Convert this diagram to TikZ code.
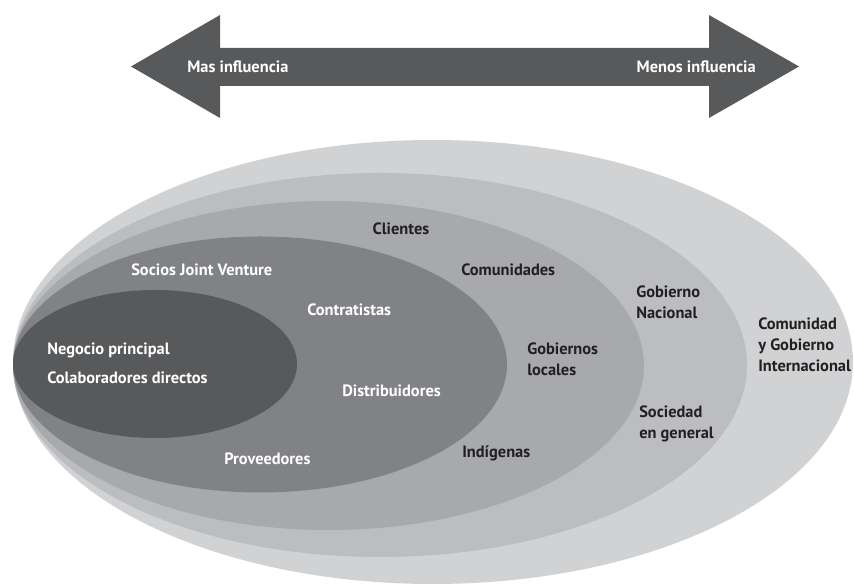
\documentclass[tikz,border=0pt]{standalone}
\usepackage{fontspec}
\setmainfont{PT Sans}
\usepackage{tikz}
\definecolor{gris1}{RGB}{209,210,212}
\definecolor{gris2}{RGB}{188,189,192}
\definecolor{gris3}{RGB}{167,169,172}
\definecolor{gris4}{RGB}{128,130,133}
\definecolor{gris5}{RGB}{88,89,91}
\definecolor{texto}{RGB}{35,31,32}

\begin{document}
\begin{tikzpicture}[x=0.75pt,y=0.75pt,
    lbl/.style={anchor=west,inner sep=0pt,align=left,text=texto,
      font=\fontsize{12.3}{15.9}\selectfont\bfseries},
    lblw/.style={lbl,text=white}]
    \useasboundingbox (0,0) rectangle (854,585);
    % flecha
    \fill[gris5] (131,518.5) -- (220,570) -- (220,537) -- (709,537) -- (709,570)
      -- (799,518.5) -- (709,467) -- (709,499) -- (220,499) -- (220,467) -- cycle;
    \node[lblw] (mas) at (187,518.5) {Mas influencia};
    \node[lblw,anchor=east] (menos) at (756,518.5) {Menos influencia};
    % elipses
    \fill[gris1] (433,223) ellipse [x radius=420,y radius=222];
    \fill[gris2] (380,220) ellipse [x radius=367,y radius=192];
    \fill[gris3] (328.5,219.5) ellipse [x radius=315.5,y radius=164.5];
    \fill[gris4] (260,220.5) ellipse [x radius=247,y radius=128];
    \fill[gris5] (155,221) ellipse [x radius=142,y radius=74];
    % textos
    \node[lblw] (negocio) at (47,235) {Negocio principal};
    \node[lblw] (colab) at (47,207) {Colaboradores directos};
    \node[lblw] (socios) at (131,315) {Socios Joint Venture};
    \node[lblw] (contrat) at (307,275) {Contratistas};
    \node[lblw] (distrib) at (342,194) {Distribuidores};
    \node[lblw] (prov) at (224,126) {Proveedores};
    \node[lbl,anchor=center] (clientes) at (401,356) {Clientes};
    \node[lbl] (comun) at (461,315) {Comunidades};
    \node[lbl] (gobloc) at (527,225.5) {Gobiernos\\locales};
    \node[lbl] (indig) at (462,132) {Indígenas};
    \node[lbl] (gobnac) at (636,282.5) {Gobierno\\Nacional};
    \node[lbl] (socied) at (639,161.5) {Sociedad\\en general};
    \node[lbl] (intern) at (758,240) {Comunidad\\y Gobierno\\Internacional};
\end{tikzpicture}
\end{document}
